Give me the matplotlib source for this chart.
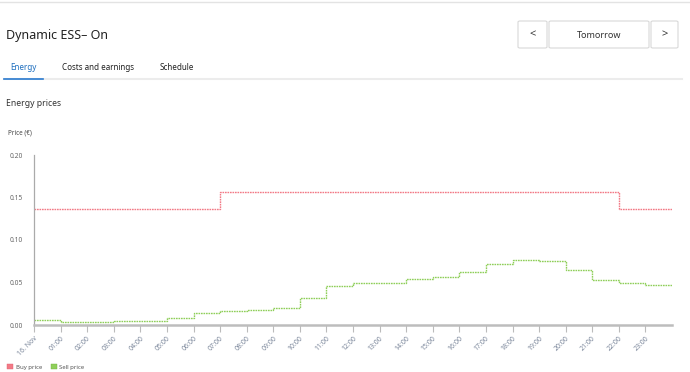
import numpy as np
import matplotlib
matplotlib.use('Agg')
import matplotlib.pyplot as plt
from matplotlib.patches import FancyBboxPatch, Patch
from matplotlib.lines import Line2D

plt.rcParams['font.family'] = ['Noto Sans', 'DejaVu Sans']

# hourly prices for 16 Nov (EUR)
hours = list(range(24))
buy_price = [0.137, 0.137, 0.137, 0.137, 0.137, 0.137, 0.137,
             0.156, 0.156, 0.156, 0.156, 0.156, 0.156, 0.156, 0.156,
             0.156, 0.156, 0.156, 0.156, 0.156, 0.156, 0.156,
             0.137, 0.137]
sell_price = [0.006, 0.004, 0.004, 0.005, 0.005, 0.008, 0.014, 0.016,
              0.018, 0.020, 0.032, 0.046, 0.049, 0.049, 0.054, 0.057,
              0.062, 0.072, 0.076, 0.075, 0.065, 0.053, 0.049, 0.047]
tick_labels = ['16. Nov'] + ['%02d:00' % h for h in hours[1:]]
y_ticks = [0.00, 0.05, 0.10, 0.15, 0.20]

W, H = 690, 372
fig = plt.figure(figsize=(W / 100, H / 100), dpi=100)


def fx(px):
    return px / W


def fy(py):
    return 1 - py / H


# header / page chrome
fig.add_artist(Line2D([0, 1], [fy(2), fy(2)], color='#e3e3e3', lw=1))
fig.text(fx(6), fy(36), 'Dynamic ESS\u2013 On', fontsize=9, color='#222222', va='center')

for x0, x1, label in [(518, 547, '<'), (549, 649, 'Tomorrow'), (651, 678, '>')]:
    fig.add_artist(FancyBboxPatch((fx(x0), fy(48)), fx(x1 - x0), (48 - 21) / H,
                                  boxstyle='round,pad=0,rounding_size=0.003',
                                  transform=fig.transFigure, facecolor='white',
                                  edgecolor='#d8d8d8', lw=0.8))
    fig.text(fx((x0 + x1) / 2), fy(35), label, fontsize=6.5 if label == 'Tomorrow' else 8,
             color='#333333', ha='center', va='center')

fig.text(fx(10), fy(68), 'Energy', fontsize=5.8, color='#1f6fbf', va='center', weight='semibold')
fig.text(fx(62), fy(68), 'Costs and earnings', fontsize=5.8, color='#222222', va='center')
fig.text(fx(160), fy(68), 'Schedule', fontsize=5.8, color='#222222', va='center')
fig.add_artist(Line2D([fx(4), fx(682)], [fy(79), fy(79)], color='#ececec', lw=1.5))
fig.add_artist(Line2D([fx(4), fx(43)], [fy(78.5), fy(78.5)], color='#2a7bd0', lw=1.2))

fig.text(fx(6), fy(104), 'Energy prices', fontsize=6.2, color='#333333', va='center')
fig.text(fx(8), fy(133), 'Price (\u20ac)', fontsize=4.5, color='#444444', va='center')

# chart
ax = fig.add_axes([fx(34), fy(325), fx(672 - 34), (325 - 155) / H])
x_edges = hours + [24]
ax.step(x_edges, buy_price + [buy_price[-1]], where='post', color='#f27a86',
        lw=1.0, linestyle=(0, (1.2, 0.6)))
ax.step(x_edges, sell_price + [sell_price[-1]], where='post', color='#8fcf5a',
        lw=1.0, linestyle=(0, (1.2, 0.6)))

ax.set_xlim(0, 24)
ax.set_ylim(0, 0.2)
ax.set_xticks(hours)
ax.set_xticklabels(tick_labels, rotation=45, ha='right', rotation_mode='anchor',
                   fontsize=5, color='#7a869a')
ax.set_yticks(y_ticks)
ax.set_yticklabels(['%.2f' % v for v in y_ticks], fontsize=4.8, color='#666666')
ax.tick_params(axis='x', length=5, width=0.8, color='#bbbbbb', pad=2)
ax.tick_params(axis='y', length=0, pad=8)
for s in ['top', 'right']:
    ax.spines[s].set_visible(False)
ax.spines['left'].set_color('#aaaaaa')
ax.spines['left'].set_linewidth(0.9)
ax.spines['bottom'].set_color('#bdbdbd')
ax.spines['bottom'].set_linewidth(1.8)

handles = [Patch(facecolor='#f27a86', edgecolor='#e06070', lw=0.3, label='Buy price'),
           Patch(facecolor='#8fcf5a', edgecolor='#70b040', lw=0.3, label='Sell price')]
fig.legend(handles=handles, loc='lower left', bbox_to_anchor=(fx(2), fy(375)), ncol=2,
           frameon=False, fontsize=4.3, handlelength=1.0, handleheight=1.0,
           handletextpad=0.4, columnspacing=1.5, labelcolor='#555555')

fig.savefig('out.png', dpi=100)
